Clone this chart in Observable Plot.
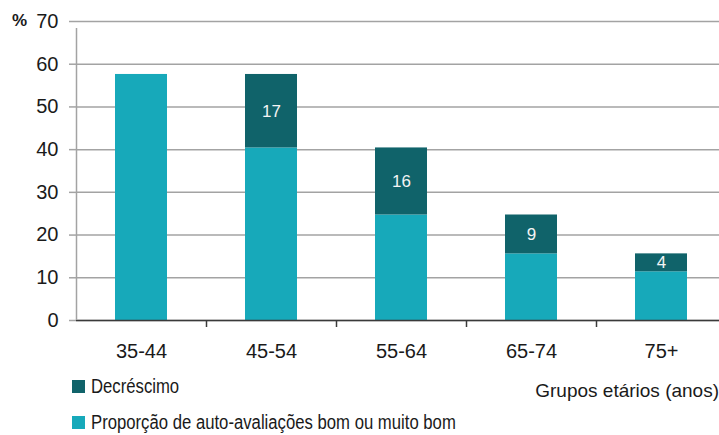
<!DOCTYPE html>
<html>
<head>
<meta charset="utf-8">
<script src="https://cdn.jsdelivr.net/npm/d3@7"></script>
<script src="https://cdn.jsdelivr.net/npm/@observablehq/plot@0.6"></script>
<style>
  html, body { margin: 0; padding: 0; background: #fff; overflow: hidden; }
  #wrap { position: relative; width: 719px; height: 435px; font-family: "Liberation Sans", Arial, sans-serif; color: #1a1a1a; }
  #pct { position: absolute; left: 12px; top: 11px; font-size: 17px; font-weight: bold; line-height: 20px; }
  .leg { position: absolute; left: 72px; height: 20px; display: flex; align-items: center; gap: 6px;
         font-family: "Liberation Sans", Arial, sans-serif; font-size: 20px; line-height: 20px; white-space: nowrap; }
  .leg .txt { display: inline-block; transform: scaleX(0.835); transform-origin: 0 50%; }
  .sw { width: 13px; height: 13px; display: inline-block; flex: none; }
  #xlabel { position: absolute; right: 0px; top: 380px; font-size: 19px; line-height: 22px; white-space: nowrap; }
</style>
</head>
<body>
<div id="wrap"></div>
<script>
// ---- data ----
const groups = ["35-44", "45-54", "55-64", "65-74", "75+"];
const proporcao = [57.6, 40.4, 24.7, 15.6, 11.4];
const decrescimo = [0, 17.2, 15.7, 9.1, 4.2];
const decrescimoLabels = [null, "17", "16", "9", "4"];
const yTicks = [0, 10, 20, 30, 40, 50, 60, 70];
const seriesNames = ["Proporção de auto-avaliações bom ou muito bom", "Decréscimo"];
const seriesColors = ["#17a9ba", "#10636a"];
const yUnit = "%";
const xTitle = "Grupos etários (anos)";

// ---- table ----
const rows = [];
groups.forEach((g, i) => {
  rows.push({group: g, series: seriesNames[0], value: proporcao[i], label: null});
  rows.push({group: g, series: seriesNames[1], value: decrescimo[i], label: decrescimoLabels[i]});
});

const W = 719, H = 365, mL = 76, mR = -7, mT = 21, mB = 45;
const halfStep = (W - mL - mR) / groups.length / 2;

const chart = Plot.plot({
  width: W,
  height: H,
  marginLeft: mL,
  marginRight: mR,
  marginTop: mT,
  marginBottom: mB,
  style: {fontFamily: "'Liberation Sans', Arial, sans-serif", fontSize: "20px", color: "#1a1a1a", background: "white"},
  x: {domain: groups, paddingInner: 0.6, paddingOuter: 0.3, label: null},
  y: {domain: [0, 70], label: null},
  color: {domain: seriesNames, range: seriesColors},
  marks: [
    Plot.gridY(yTicks, {stroke: "#a3a3a3", strokeOpacity: 1, strokeWidth: 1.5}),
    Plot.barY(rows, {x: "group", y: "value", fill: "series"}),
    Plot.text(rows, Plot.stackY({x: "group", y: "value", text: "label", fill: "#f4f4f4", fontSize: 17})),
    Plot.ruleY([0], {stroke: "#3a3a3a", strokeWidth: 1.5}),
    // left axis line
    Plot.ruleX([groups[0]], {x: d => d, y1: 0, y2: 70, dx: -halfStep, insetBottom: -7, stroke: "#a3a3a3", strokeWidth: 1.5}),
    // category boundary ticks
    Plot.ruleX(groups.slice(1), {x: d => d, y1: 0, y2: 0, dx: -halfStep, insetBottom: -7, stroke: "#3a3a3a", strokeWidth: 1.5}),
    Plot.axisY(yTicks, {tickSize: 7, tickPadding: 11, fontSize: 20, stroke: "#a3a3a3", strokeWidth: 1.5, fill: "#1a1a1a", label: null}),
    Plot.axisX({tickSize: 0, tickPadding: 23, fontSize: 20, fill: "#1a1a1a", label: null})
  ]
});

const wrap = document.getElementById("wrap");
wrap.appendChild(chart);

const pct = document.createElement("div");
pct.id = "pct";
pct.textContent = yUnit;
wrap.appendChild(pct);

const legendOrder = [1, 0];
const legendTops = [376, 412];
legendOrder.forEach((si, k) => {
  const row = document.createElement("div");
  row.className = "leg";
  row.style.top = legendTops[k] + "px";
  const sw = document.createElement("span");
  sw.className = "sw";
  sw.style.background = seriesColors[si];
  const t = document.createElement("span");
  t.className = "txt";
  t.textContent = seriesNames[si];
  row.appendChild(sw);
  row.appendChild(t);
  wrap.appendChild(row);
});

const xl = document.createElement("div");
xl.id = "xlabel";
xl.textContent = xTitle;
wrap.appendChild(xl);
</script>
</body>
</html>
